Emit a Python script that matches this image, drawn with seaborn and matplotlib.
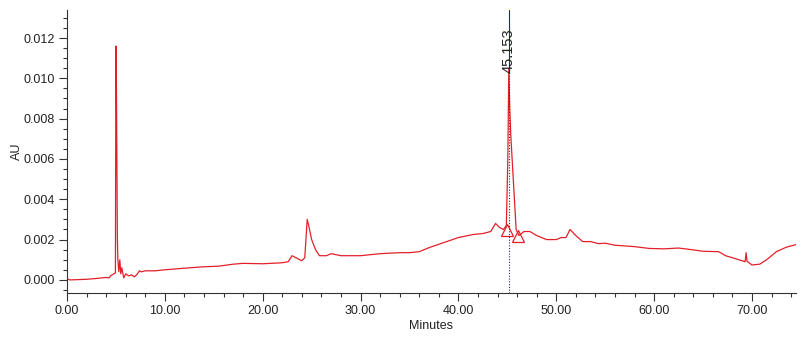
import matplotlib
matplotlib.use("Agg")
import matplotlib.pyplot as plt
import seaborn as sns
import numpy as np
import pandas as pd
from matplotlib.ticker import MultipleLocator, FormatStrFormatter

# ---- data ----
minutes = [0.0, 0.3, 1.0, 2.0, 3.0, 4.0, 4.3, 4.5, 4.8, 4.95,
           5.0, 5.05, 5.1, 5.15, 5.2, 5.3, 5.4, 5.5, 5.6, 5.8,
           6.0, 6.3, 6.6, 6.9, 7.2, 7.4, 7.6, 8.0, 9.0, 10.0,
           12.0, 14.0, 15.5, 17.0, 18.0, 20.0, 22.0, 22.6, 23.0, 23.4,
           24.0, 24.3, 24.55, 24.7, 25.0, 25.4, 25.8, 26.5, 27.0, 28.0,
           30.0, 32.0, 34.0, 35.0, 36.0, 37.0, 38.5, 40.0, 41.5, 42.5,
           43.3, 43.8, 44.2, 44.6, 44.9, 45.05, 45.15, 45.25, 45.35, 45.9,
           46.2, 46.7, 47.3, 48.0, 49.0, 50.0, 50.5, 51.0, 51.4, 52.0,
           52.7, 53.5, 54.3, 55.0, 56.0, 58.0, 59.5, 61.0, 62.5, 63.5,
           65.0, 66.6, 67.3, 68.0, 69.3, 69.4, 69.5, 70.0, 70.8, 71.5,
           72.5, 73.5, 74.5]
absorbance = [0.00005, 0.0, 0.00001, 0.00003, 0.00007, 0.00012, 0.00010, 0.00022, 0.00030, 0.00035,
              0.0116, 0.0098, 0.0060, 0.0020, 0.0010, 0.0004, 0.0010, 0.0003, 0.0006, 0.00010,
              0.00030, 0.00020, 0.00025, 0.00015, 0.00030, 0.00045, 0.00040, 0.00045, 0.00045, 0.00050,
              0.00058, 0.00065, 0.00068, 0.00078, 0.00082, 0.00080, 0.00085, 0.00090, 0.00120, 0.00110,
              0.00095, 0.0011, 0.0030, 0.0027, 0.0020, 0.0015, 0.0012, 0.0012, 0.0013, 0.0012,
              0.0012, 0.00130, 0.00135, 0.00135, 0.00140, 0.00160, 0.00185, 0.00210, 0.00225, 0.00230,
              0.00240, 0.00280, 0.00260, 0.00250, 0.00270, 0.0060, 0.0105, 0.0085, 0.0072, 0.0025,
              0.0022, 0.0024, 0.0024, 0.0022, 0.0020, 0.0020, 0.0021, 0.0021, 0.0025, 0.0022,
              0.0019, 0.0019, 0.0018, 0.00182, 0.00172, 0.00165, 0.00156, 0.00154, 0.00158, 0.00152,
              0.00142, 0.00140, 0.00120, 0.00110, 0.00090, 0.00135, 0.00092, 0.00074, 0.00078, 0.00100,
              0.00140, 0.00162, 0.00175]

peak_time = 45.153
peak_label = "45.153"
marker_times = [45.0, 46.1]
marker_values = [0.00248, 0.00218]

# ---- plot ----
sns.set_theme(style="ticks")
plt.rcParams['font.family'] = ['Liberation Sans', 'DejaVu Sans']

fig = plt.figure(figsize=(8.06, 3.41), dpi=100)
ax = fig.add_axes([0.0831, 0.1408, 0.9045, 0.8299])

df = pd.DataFrame({"Minutes": minutes, "AU": absorbance})
sns.lineplot(data=df, x="Minutes", y="AU", ax=ax, color="#e3202a", linewidth=0.9)

ax.plot(marker_times, marker_values, linestyle="none", marker="^", markersize=9,
        markerfacecolor="none", markeredgecolor="#e3202a", markeredgewidth=0.9)

ax.set_xlim(0, 74.5)
ax.set_ylim(-0.00065, 0.01339)

ylo, yhi = ax.get_ylim()
frac_peak = (0.0105 - ylo) / (yhi - ylo)
ax.axvline(peak_time, ymin=0, ymax=frac_peak, color="#1f2a7a", linestyle=(0, (1, 1.5)), linewidth=0.8)
ax.axvline(peak_time, ymin=frac_peak, ymax=1, color="#1f2a7a", linestyle="-", linewidth=0.8)
ax.text(peak_time, 0.01025, peak_label, rotation=90, ha="center", va="bottom",
        fontsize=10.5, color="#222222")

ax.xaxis.set_major_locator(MultipleLocator(10))
ax.xaxis.set_minor_locator(MultipleLocator(2))
ax.xaxis.set_major_formatter(FormatStrFormatter("%.2f"))
ax.yaxis.set_major_locator(MultipleLocator(0.002))
ax.yaxis.set_minor_locator(MultipleLocator(0.0005))
ax.yaxis.set_major_formatter(FormatStrFormatter("%.3f"))

ax.tick_params(axis="both", which="major", labelsize=9, length=6, width=0.8, color="#333333",
               labelcolor="#222222", pad=3)
ax.tick_params(axis="both", which="minor", length=3, width=0.8, color="#333333")

for s in ["top", "right"]:
    ax.spines[s].set_visible(False)
for s in ["left", "bottom"]:
    ax.spines[s].set_color("#333333")
    ax.spines[s].set_linewidth(0.8)

ax.set_xlabel("Minutes", fontsize=9, color="#222222", labelpad=2)
ax.set_ylabel("AU", fontsize=9, color="#222222")
ax.yaxis.set_label_coords(-0.061, 0.5)
ax.grid(False)

fig.savefig("out.png", dpi=100)
